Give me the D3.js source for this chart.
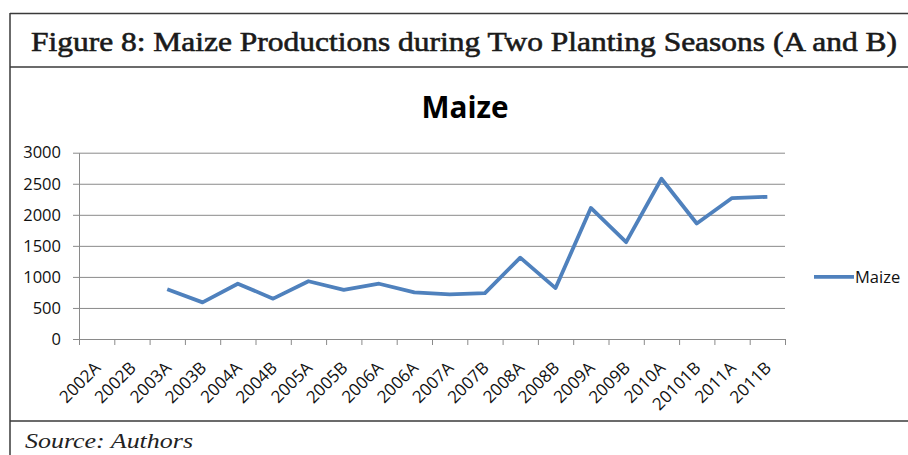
<!DOCTYPE html>
<html>
<head>
<meta charset="utf-8">
<script src="https://cdn.jsdelivr.net/npm/d3@7"></script>
<style>
  body { margin: 0; background: #fff; }
  svg { display: block; }
</style>
</head>
<body>
<script>
var width = 908,
    height = 455;

// Data (2002A/2002B have no value)
var categories = ["2002A", "2002B", "2003A", "2003B", "2004A", "2004B", "2005A", "2005B",
                  "2006A", "2006A", "2007A", "2007B", "2008A", "2008B", "2009A", "2009B",
                  "2010A", "20101B", "2011A", "2011B"];
var maize = [null, null, 800, 590, 890, 650, 930, 790,
             890, 750, 720, 740, 1310, 820, 2110, 1560,
             2580, 1860, 2270, 2290];
var yTicks = [0, 500, 1000, 1500, 2000, 2500, 3000];

var figureTitle = "Figure 8: Maize Productions during Two Planting Seasons (A and B)";
var chartTitle = "Maize";
var seriesName = "Maize";
var sourceText = "Source:  Authors";

var plot = { left: 79, right: 785, top: 152.7, bottom: 339 };
var sans = "'Open Sans', 'Noto Sans', sans-serif";
var serif = "'Liberation Serif', 'DejaVu Serif', serif";
var lineColor = "#4f81bd";
var gridColor = "#8a8a8a";

var svg = d3.select("body").append("svg")
    .attr("width", width)
    .attr("height", height);

// Frame of the figure box
var frameColor = "#3a3a3a";
svg.append("line").attr("x1", 10).attr("x2", width).attr("y1", 13.5).attr("y2", 13.5)
    .attr("stroke", frameColor).attr("stroke-width", 1.5);
svg.append("line").attr("x1", 10).attr("x2", width).attr("y1", 67).attr("y2", 67)
    .attr("stroke", frameColor).attr("stroke-width", 1.5);
svg.append("line").attr("x1", 10).attr("x2", width).attr("y1", 421).attr("y2", 421)
    .attr("stroke", frameColor).attr("stroke-width", 1.5);
svg.append("line").attr("x1", 10).attr("x2", 10).attr("y1", 13).attr("y2", height)
    .attr("stroke", frameColor).attr("stroke-width", 1.5);

// Figure caption, squeezed to the width it has in the picture
svg.append("text")
    .attr("x", 31)
    .attr("y", 51)
    .attr("font-family", serif)
    .attr("font-size", 28)
    .attr("fill", "#1a1a1a")
    .attr("stroke", "#1a1a1a")
    .attr("stroke-width", 0.6)
    .attr("textLength", 866)
    .attr("lengthAdjust", "spacingAndGlyphs")
    .text(figureTitle);

svg.append("text")
    .attr("x", 25)
    .attr("y", 448)
    .attr("font-family", serif)
    .attr("font-style", "italic")
    .attr("font-size", 21)
    .attr("fill", "#222")
    .attr("textLength", 168)
    .attr("lengthAdjust", "spacingAndGlyphs")
    .text(sourceText);

// Chart title
svg.append("text")
    .attr("x", 465)
    .attr("y", 118)
    .attr("text-anchor", "middle")
    .attr("font-family", sans)
    .attr("font-weight", "bold")
    .attr("font-size", 30)
    .attr("fill", "#000")
    .attr("textLength", 87)
    .attr("lengthAdjust", "spacingAndGlyphs")
    .text(chartTitle);

// Scales
var x = d3.scaleBand()
    .domain(d3.range(categories.length))
    .range([plot.left, plot.right]);

var xEdges = d3.scaleLinear()
    .domain([0, categories.length])
    .range([plot.left, plot.right]);

var y = d3.scaleLinear()
    .domain([0, 3000])
    .range([plot.bottom, plot.top]);

// Gridlines
var grid = svg.append("g")
    .attr("transform", "translate(" + plot.left + ",0)")
    .call(d3.axisLeft(y).tickValues(yTicks).tickSize(-(plot.right - plot.left)).tickFormat(""));
grid.select(".domain").remove();
grid.selectAll("line").attr("stroke", gridColor).attr("stroke-width", 1);

// Y axis
var yAxis = svg.append("g")
    .attr("transform", "translate(" + plot.left + ",0)")
    .call(d3.axisLeft(y).tickValues(yTicks).tickFormat(d3.format("d"))
        .tickSize(6).tickSizeOuter(0).tickPadding(12));
yAxis.select(".domain").attr("stroke", gridColor);
yAxis.selectAll("line").attr("stroke", gridColor);
yAxis.selectAll("text")
    .attr("font-family", sans)
    .attr("font-size", 16.5)
    .attr("fill", "#111");

// X axis: tick marks on category edges
var xTicks = svg.append("g")
    .attr("transform", "translate(0," + plot.bottom + ")")
    .call(d3.axisBottom(xEdges).tickValues(d3.range(categories.length + 1)).tickSize(6).tickSizeOuter(0).tickFormat(""));
xTicks.select(".domain").attr("stroke", gridColor);
xTicks.selectAll("line").attr("stroke", gridColor);

// X axis labels at category centres
var xLabels = svg.append("g")
    .attr("transform", "translate(0," + plot.bottom + ")")
    .call(d3.axisBottom(x).tickSize(0).tickFormat(function(i) { return categories[i]; }));
xLabels.select(".domain").remove();
xLabels.selectAll("text")
    .attr("font-family", sans)
    .attr("font-size", 17)
    .attr("fill", "#111")
    .attr("text-anchor", "end")
    .attr("dy", null)
    .attr("y", 0)
    .attr("transform", "translate(5,30) rotate(-45)");

// Line
var line = d3.line()
    .defined(function(d) { return d != null; })
    .x(function(d, i) { return x(i) + x.bandwidth() / 2; })
    .y(function(d) { return y(d); });

svg.append("path")
    .datum(maize)
    .attr("fill", "none")
    .attr("stroke", lineColor)
    .attr("stroke-width", 3.8)
    .attr("stroke-linejoin", "round")
    .attr("d", line);

// Legend
var legend = svg.append("g").attr("transform", "translate(814," + y(1000) + ")");
legend.append("line")
    .attr("x1", 0).attr("x2", 40)
    .attr("stroke", lineColor)
    .attr("stroke-width", 3.8);
legend.append("text")
    .attr("x", 41)
    .attr("dy", "0.35em")
    .attr("font-family", sans)
    .attr("font-size", 16.5)
    .attr("fill", "#111")
    .text(seriesName);
</script>
</body>
</html>
